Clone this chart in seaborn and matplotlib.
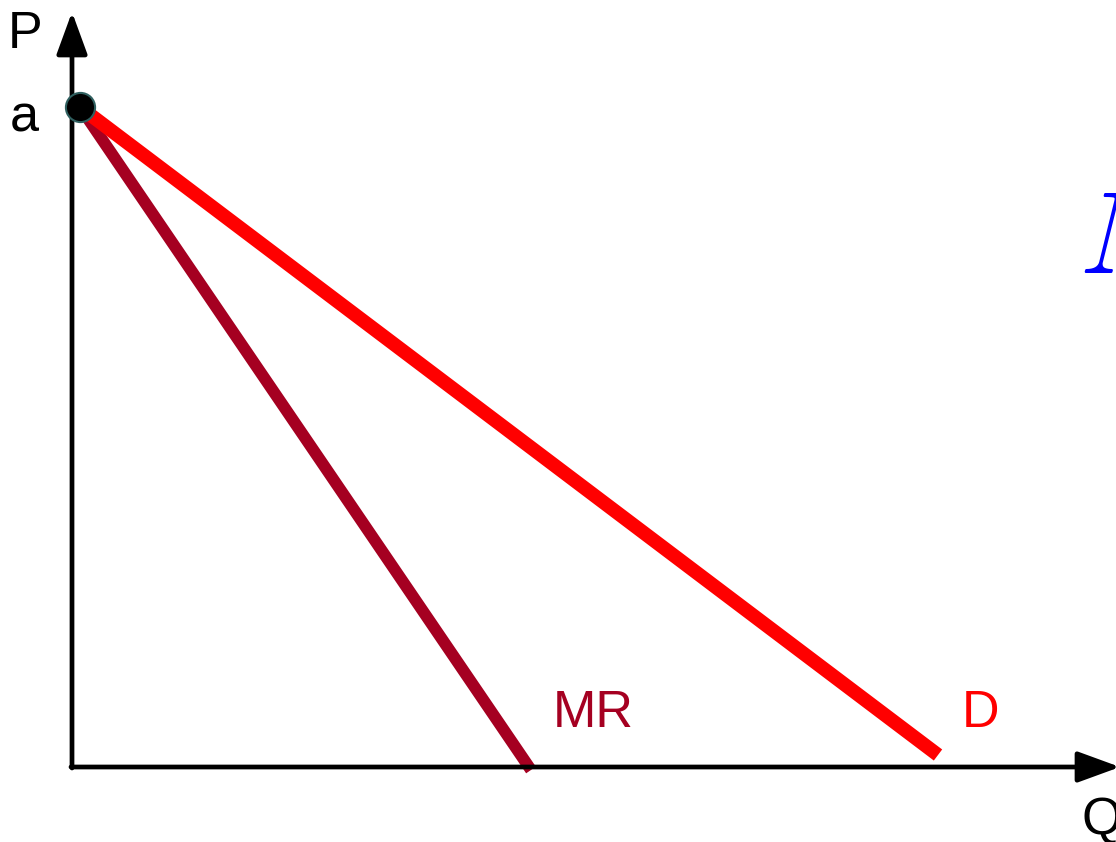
import matplotlib
matplotlib.use("Agg")
import matplotlib.pyplot as plt
import seaborn as sns

# monopoly demand and marginal revenue (quantity Q, price P)
a = 660
q_demand = [8, 866]
p_demand = [a, 12]
q_mr = [8, 459]
p_mr = [a, -3]

sns.set_style("white")
plt.rcParams['font.family'] = ['Liberation Sans', 'DejaVu Sans']
plt.rcParams['mathtext.fontset'] = 'cm'

fig = plt.figure(figsize=(11.16, 8.42), dpi=100)
ax = fig.add_axes([0, 0, 1, 1])
ax.set_xlim(-72, 1044)
ax.set_ylim(-75, 767)
ax.axis('off')

# axes with arrows
arrow = dict(arrowstyle="-|>,head_length=2.6,head_width=0.95", lw=3.4,
             color='black', mutation_scale=10, shrinkA=0, shrinkB=0)
ax.annotate("", xy=(0, 755), xytext=(0, -1), arrowprops=arrow,
            annotation_clip=False)
ax.annotate("", xy=(1048, 0), xytext=(-1, 0), arrowprops=arrow,
            annotation_clip=False)

sns.lineplot(x=q_mr, y=p_mr, ax=ax, color='#a50021', linewidth=8.5,
             solid_capstyle='butt')
sns.lineplot(x=q_demand, y=p_demand, ax=ax, color='#ff0000', linewidth=10,
             solid_capstyle='butt')
ax.plot([q_demand[0]], [a], 'o', markersize=21, markerfacecolor='black',
        markeredgecolor='#2f5f5f', markeredgewidth=1.5, zorder=5)

fs = 37.5
ax.text(-64, 719, "P", fontsize=fs, color='black', ha='left', va='baseline')
ax.text(-62, 635, "a", fontsize=fs, color='black', ha='left', va='baseline')
ax.text(481, 40, "MR", fontsize=fs, color='#a50021', ha='left', va='baseline')
ax.text(890, 40, "D", fontsize=fs, color='#ff0000', ha='left', va='baseline')
ax.text(1009, -67, "Q", fontsize=fs, color='black', ha='left', va='baseline')
ax.text(1007, 494, r"$M$", fontsize=84, color='#0000ff', ha='left', va='baseline')

fig.savefig("out.png", dpi=100)
